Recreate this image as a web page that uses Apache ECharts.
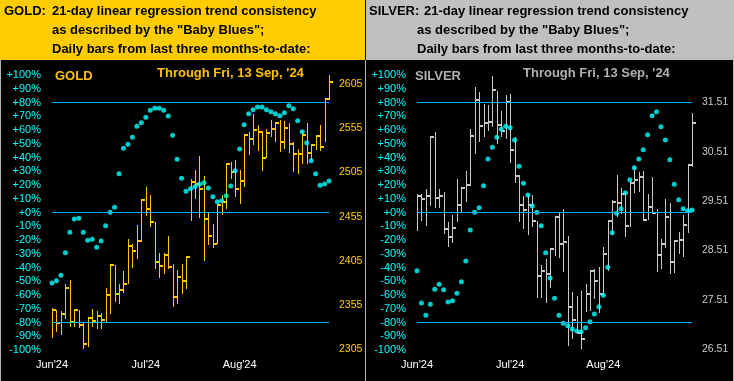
<!DOCTYPE html>
<html><head><meta charset="utf-8">
<script src="https://cdn.jsdelivr.net/npm/echarts@6/dist/echarts.min.js"></script>
<style>html,body{margin:0;padding:0;background:#000;overflow:hidden}#c{width:734px;height:381px}</style>
</head><body><div id="c"></div>
<script>
// ---- categories (63 daily bars) and month tick labels ----
const categories = Array.from({length: 63}, (_, i) => 'd' + (i + 1));
const monthTickIndex = [0, 21, 42];
const monthTickLabel = ["Jun'24", "Jul'24", "Aug'24"];
const pctTicks = [-100, -90, -80, -70, -60, -50, -40, -30, -20, -10, 0, 10, 20, 30, 40, 50, 60, 70, 80, 90, 100];
const goldPriceTicks = [2305, 2355, 2405, 2455, 2505, 2555, 2605];
const silverPriceTicks = [26.51, 27.51, 28.51, 29.51, 30.51, 31.51];
const refLines = [80, 0, -80];

// ---- GOLD daily bars ----
const goldHigh = [2351.9,2348.8,2348.1,2379.1,2382.8,2349.6,2349.6,2334.5,2341.3,2350.7,2348.1,2346.2,2374.5,2401.7,2399.8,2378.3,2393.0,2430.1,2423.6,2445.2,2474.3,2488.6,2479.2,2449.0,2413.8,2413.8,2432.7,2401.0,2394.9,2401.7,2409.3,2497.3,2507.5,2523.4,2500.7,2460.3,2447.1,2469.0,2479.2,2515.1,2517.0,2519.6,2508.3,2548.3,2551.0,2571.0,2558.5,2552.1,2554.7,2564.2,2562.3,2564.9,2563.4,2561.2,2539.6,2532.1,2553.6,2561.2,2537.0,2547.2,2558.5,2589.5,2615.2];
const goldLow = [2317.8,2324.3,2320.5,2339.4,2329.9,2329.9,2329.2,2305.4,2307.3,2329.9,2328.0,2328.0,2335.6,2345.0,2358.3,2356.4,2368.9,2379.1,2397.2,2407.4,2426.3,2455.4,2443.3,2396.1,2385.9,2390.4,2396.1,2352.6,2355.6,2367.7,2373.4,2450.1,2475.4,2453.9,2404.7,2422.5,2419.9,2424.4,2456.5,2464.1,2498.1,2477.3,2469.0,2488.6,2524.5,2535.9,2529.4,2506.8,2521.9,2545.3,2539.6,2528.3,2532.1,2527.2,2505.6,2503.0,2515.1,2514.9,2518.9,2530.2,2529.4,2539.6,2586.9];
const goldClose = [2349.6,2334.5,2344.3,2373.8,2335.6,2348.8,2332.6,2310.7,2340.1,2336.7,2342.4,2337.5,2366.2,2400.2,2367.3,2371.9,2378.7,2421.8,2415.7,2427.0,2473.5,2463.7,2449.0,2403.6,2399.1,2411.9,2397.9,2363.9,2386.6,2382.1,2408.9,2494.3,2492.0,2486.7,2452.4,2433.1,2424.4,2468.2,2471.6,2514.3,2505.6,2486.7,2495.4,2547.6,2542.7,2552.9,2551.0,2521.5,2549.8,2554.4,2561.2,2539.6,2555.5,2537.4,2526.0,2526.4,2547.2,2527.2,2535.9,2546.1,2533.6,2588.4,2607.6];
const goldBlues = [-51.2,-49.7,-45.6,-29.3,-14.3,-4.8,-4.1,-14.3,-20.1,-19.4,-25.2,-20.8,-9.7,0.2,3.9,28.1,46.8,49.7,54.8,62.8,65.2,69.3,74.4,75.9,75.9,74.4,70.1,56.2,38.8,25.0,15.5,17.2,18.7,20.6,21.6,17.9,11.4,7.8,8.5,12.1,19.2,30.3,46.1,63.8,71.8,74.7,76.8,76.8,74.7,73.2,71.8,70.3,72.5,77.6,75.4,66.7,58.7,50.7,37.6,28.1,19.9,20.8,23.0];

// ---- SILVER daily bars ----
const silverHigh = [29.65,29.65,29.75,30.83,30.91,29.75,29.70,29.08,29.23,29.95,29.80,30.12,30.96,31.81,31.71,31.47,31.46,32.03,31.74,31.33,31.65,31.67,30.81,30.03,29.62,29.64,29.64,29.10,28.22,28.34,28.57,29.19,29.28,29.35,28.81,27.68,27.59,27.70,27.83,28.10,28.13,28.18,28.59,29.11,29.53,30.04,29.78,29.70,29.92,30.22,30.09,30.11,29.65,30.00,29.35,28.74,29.55,29.47,28.72,28.89,29.23,30.26,31.30];
const silverLow = [28.91,29.10,29.00,29.41,29.38,29.38,28.84,28.59,28.67,29.08,29.26,29.50,29.82,30.46,30.71,30.81,30.92,31.01,30.66,30.80,30.76,30.28,29.87,29.08,28.94,28.83,28.98,27.56,27.56,27.46,27.76,28.40,28.37,28.07,26.58,26.72,26.82,26.52,27.26,27.29,27.53,27.24,27.59,28.09,28.83,29.18,29.25,28.79,28.98,29.68,29.70,29.10,29.12,29.25,28.07,28.13,28.56,28.03,28.05,28.44,28.39,28.86,30.20];
const silverClose = [29.62,29.55,29.62,30.80,29.58,29.62,28.94,28.78,28.96,29.44,29.77,29.83,30.82,31.55,31.03,31.09,31.11,31.75,31.05,30.92,31.51,30.54,30.02,29.43,29.33,29.43,29.10,27.99,28.09,28.03,28.55,29.18,28.65,28.69,27.36,27.10,26.85,26.72,27.63,28.09,27.90,27.63,28.44,29.10,29.50,29.48,29.65,29.00,29.87,29.93,29.99,29.13,29.40,29.27,28.42,28.64,29.18,28.27,28.71,28.73,29.02,30.24,31.08];
const silverBlues = [-42.4,-65.9,-74.7,-66.7,-55.8,-52.1,-56.2,-65.0,-64.2,-58.7,-50.4,-35.2,-12.8,0.2,3.4,19.4,39.0,47.5,54.8,60.6,62.8,61.6,52.8,33.7,21.3,12.8,4.8,0.2,-9.7,-29.3,-47.7,-62.3,-74.7,-80.5,-82.4,-84.8,-86.1,-86.8,-83.9,-79.5,-73.9,-68.6,-60.1,-39.8,-14.8,-0.5,2.7,14.3,23.8,32.5,39.0,45.6,56.5,70.3,73.2,62.3,52.8,38.3,20.6,9.2,2.7,1.2,1.9];

const FONT = '"Liberation Sans", Arial, sans-serif';
const GOLD_C = '#FFC800';
const SILV_C = '#C8C8C8';
const BLUE_DOT = '#00FFFF';
const BLUE_LINE = '#00B4FF';

function hlc(color) {
  return function (params, api) {
    const i = api.value(0);
    const pH = api.coord([i, api.value(1)]);
    const pL = api.coord([i, api.value(2)]);
    const pC = api.coord([i, api.value(3)]);
    const x = Math.round(pH[0]) + 0.5;
    const yc = Math.round(pC[1]);
    return {
      type: 'group',
      children: [
        {type: 'line', shape: {x1: x, y1: Math.round(pH[1]), x2: x, y2: Math.round(pL[1])}, style: {stroke: color, lineWidth: 1}},
        {type: 'line', shape: {x1: x - 0.5, y1: yc, x2: x + 3.5, y2: yc}, style: {stroke: color, lineWidth: 2}}
      ]
    };
  };
}
const pctFmt = v => (v >= 0 ? '+' + v : '' + v) + '%';

function xAxisDef(gi) {
  return {
    type: 'category', gridIndex: gi, data: categories, boundaryGap: false,
    axisLine: {show: false}, axisTick: {show: false}, splitLine: {show: false},
    axisLabel: {
      color: '#FFFFFF', fontSize: 11, fontFamily: FONT, margin: 9,
      interval: (idx) => monthTickIndex.indexOf(idx) >= 0,
      formatter: (v, idx) => { const k = monthTickIndex.indexOf(idx); return k >= 0 ? monthTickLabel[k] : ''; }
    }
  };
}
function pctAxis(gi) {
  return {
    type: 'value', gridIndex: gi, min: -100, max: 100, interval: 10, position: 'left',
    axisLine: {show: false}, axisTick: {show: false}, splitLine: {show: false},
    axisLabel: {color: '#00FFFF', fontSize: 11, fontFamily: FONT, margin: 11, formatter: pctFmt}
  };
}
function priceAxis(gi, min, max, ticks, color, dec) {
  return {
    type: 'value', gridIndex: gi, min: min, max: max, position: 'right',
    axisLine: {show: false}, axisTick: {show: false}, splitLine: {show: false},
    axisLabel: {color: color, fontSize: 10.5, fontFamily: FONT, margin: 10,
      customValues: ticks, formatter: v => v.toFixed(dec)}
  };
}
function refMark() {
  return {
    silent: true, symbol: 'none', animation: false,
    label: {show: false},
    lineStyle: {color: BLUE_LINE, width: 1, type: 'solid'},
    data: refLines.map(v => ({yAxis: v}))
  };
}

const headerFont = 'bold 13px ' + FONT;
function txt(text, x, y, fill, font) {
  return {type: 'text', silent: true, z: 100, style: {text: text, x: x, y: y, fill: fill, font: font || headerFont, verticalAlign: 'middle', align: 'left'}};
}

const chart = echarts.init(document.getElementById('c'), null, {renderer: 'canvas'});
chart.setOption({
  animation: false,
  backgroundColor: '#000000',
  grid: [
    {left: 52, top: 75, width: 277, height: 275},
    {left: 417, top: 75, width: 275, height: 275}
  ],
  xAxis: [xAxisDef(0), xAxisDef(1)],
  yAxis: [
    pctAxis(0),
    priceAxis(0, 2304, 2615.5, goldPriceTicks, '#FFCC00', 0),
    pctAxis(1),
    priceAxis(1, 26.50, 32.06, silverPriceTicks, SILV_C, 2)
  ],
  graphic: [
    {type: 'rect', silent: true, shape: {x: 0, y: 0, width: 365, height: 60}, style: {fill: '#FFCC00'}},
    {type: 'rect', silent: true, shape: {x: 366, y: 0, width: 368, height: 60}, style: {fill: '#C0C0C0'}},
    {type: 'rect', silent: true, shape: {x: 0, y: 60, width: 1, height: 321}, style: {fill: '#B0B0B0'}},
    {type: 'rect', silent: true, shape: {x: 365, y: 60, width: 1, height: 321}, style: {fill: '#B0B0B0'}},
    {type: 'rect', silent: true, shape: {x: 733, y: 60, width: 1, height: 321}, style: {fill: '#B0B0B0'}},
    txt('GOLD:', 4, 11, '#000'),
    txt('21-day linear regression trend consistency', 52, 11, '#000'),
    txt('as described by the "Baby Blues";', 52, 30.5, '#000'),
    txt('Daily bars from last three months-to-date:', 52, 49.5, '#000'),
    txt('SILVER:', 369, 11, '#000'),
    txt('21-day linear regression trend consistency', 424, 11, '#000'),
    txt('as described by the "Baby Blues";', 417, 30.5, '#000'),
    txt('Daily bars from last three months-to-date:', 417, 49.5, '#000'),
    txt('GOLD', 55, 76, '#FFC000'),
    txt("Through Fri, 13 Sep, '24", 157, 73.5, '#FFC000'),
    txt('SILVER', 415, 76, '#B0B0B0'),
    txt("Through Fri, 13 Sep, '24", 523, 73.5, '#B0B0B0')
  ],
  series: [
    {type: 'custom', xAxisIndex: 0, yAxisIndex: 1, z: 2, renderItem: hlc(GOLD_C), encode: {x: 0, y: [1, 2, 3]},
      data: goldHigh.map((h, i) => [i, h, goldLow[i], goldClose[i]])},
    {type: 'scatter', xAxisIndex: 0, yAxisIndex: 0, z: 3, symbol: 'circle', symbolSize: 5,
      itemStyle: {color: BLUE_DOT}, data: goldBlues, markLine: refMark()},
    {type: 'custom', xAxisIndex: 1, yAxisIndex: 3, z: 2, renderItem: hlc(SILV_C), encode: {x: 0, y: [1, 2, 3]},
      data: silverHigh.map((h, i) => [i, h, silverLow[i], silverClose[i]])},
    {type: 'scatter', xAxisIndex: 1, yAxisIndex: 2, z: 3, symbol: 'circle', symbolSize: 5,
      itemStyle: {color: BLUE_DOT}, data: silverBlues, markLine: refMark()}
  ]
});
</script></body></html>
